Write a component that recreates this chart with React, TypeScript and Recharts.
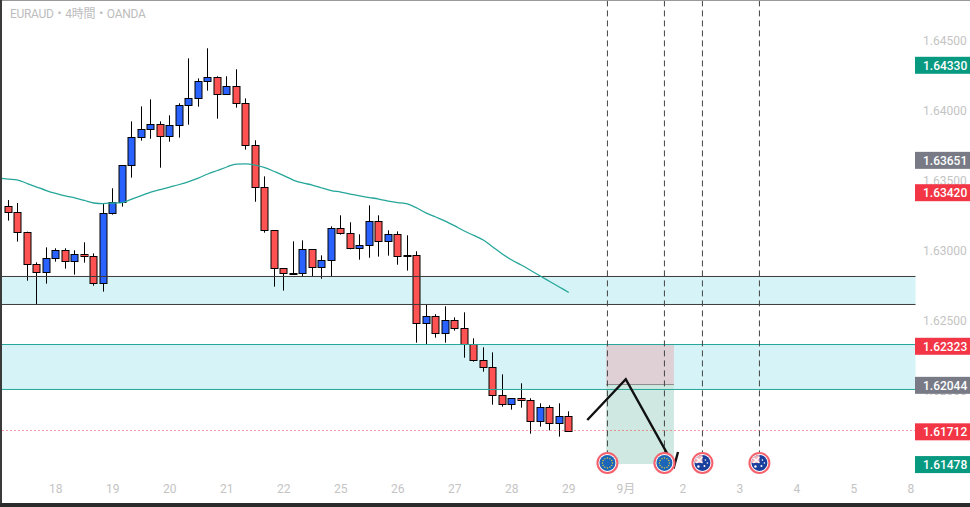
import { ComposedChart, Bar, Line, XAxis, YAxis, ReferenceArea, ReferenceLine, ReferenceDot } from 'recharts';

const TITLE = 'EURAUD・4時間・OANDA';

// 4h candles, oldest first
const opens = [
  1.63319, 1.63276, 1.63133, 1.62905, 1.62848, 1.62948, 1.63005, 1.62926, 1.62976, 1.62962,
  1.62769, 1.63269, 1.63348, 1.63612, 1.63812, 1.63869, 1.63905, 1.63819, 1.63898, 1.64041,
  1.6409, 1.64212, 1.64241, 1.64119, 1.64176, 1.64055, 1.63755, 1.63455, 1.63148, 1.62876,
  1.6284, 1.6284, 1.63012, 1.62883, 1.62933, 1.63162, 1.63126, 1.63019, 1.6304, 1.63212,
  1.63069, 1.63119, 1.62969, 1.62969, 1.62483, 1.62533, 1.62412, 1.62505, 1.62448, 1.62333,
  1.62219, 1.62169, 1.61969, 1.61905, 1.61948, 1.61933, 1.61783, 1.61883, 1.61769, 1.61819,
];
const highs = [
  1.63364, 1.63343, 1.63138, 1.62919, 1.63026, 1.63019, 1.63019, 1.63005, 1.63062, 1.62983,
  1.6334, 1.63448, 1.63614, 1.63926, 1.64033, 1.64083, 1.63926, 1.63969, 1.64055, 1.64376,
  1.64233, 1.64448, 1.64248, 1.64248, 1.64298, 1.6409, 1.63791, 1.63533, 1.63148, 1.62876,
  1.63069, 1.63076, 1.63012, 1.62969, 1.63176, 1.63255, 1.63205, 1.63119, 1.63326, 1.63255,
  1.63148, 1.6314, 1.63112, 1.62998, 1.62617, 1.62548, 1.62605, 1.62526, 1.62562, 1.62376,
  1.62312, 1.62276, 1.62119, 1.61948, 1.62055, 1.61948, 1.61912, 1.61898, 1.61912, 1.61855,
];
const lows = [
  1.63217, 1.63067, 1.62788, 1.62621, 1.62767, 1.62924, 1.62874, 1.62831, 1.62917, 1.62752,
  1.6271, 1.6326, 1.63317, 1.63524, 1.63788, 1.63802, 1.63595, 1.63781, 1.6381, 1.63902,
  1.64031, 1.64145, 1.63945, 1.64119, 1.64024, 1.63724, 1.63352, 1.63131, 1.62745, 1.62717,
  1.6284, 1.62821, 1.62819, 1.62802, 1.62819, 1.63117, 1.63012, 1.62938, 1.62952, 1.6296,
  1.62967, 1.62902, 1.6286, 1.62345, 1.62336, 1.62381, 1.62345, 1.62431, 1.62238, 1.6221,
  1.62138, 1.61902, 1.61888, 1.61867, 1.61881, 1.61695, 1.61745, 1.61719, 1.61674, 1.61712,
];
const closes = [
  1.63276, 1.63133, 1.62905, 1.62848, 1.62948, 1.63005, 1.62926, 1.62976, 1.62962, 1.62769,
  1.63269, 1.63348, 1.63612, 1.63812, 1.63869, 1.63905, 1.63819, 1.63898, 1.64041, 1.6409,
  1.64212, 1.64241, 1.64119, 1.64176, 1.64055, 1.63755, 1.63455, 1.63148, 1.62876, 1.6284,
  1.6284, 1.63012, 1.62883, 1.62933, 1.63162, 1.63126, 1.63019, 1.6304, 1.63212, 1.63069,
  1.63119, 1.62962, 1.62962, 1.62483, 1.62533, 1.62412, 1.62505, 1.62448, 1.62333, 1.62219,
  1.62169, 1.61969, 1.61905, 1.61948, 1.61933, 1.61783, 1.61883, 1.61769, 1.61819, 1.61712,
];

// moving average, first value sits one slot before the first candle
const maValues = [
  1.63521, 1.63514, 1.63507, 1.63482, 1.63457, 1.63432, 1.63411, 1.63393, 1.63379, 1.63361, 1.63343,
  1.63339, 1.63343, 1.63346, 1.63371, 1.63396, 1.63421, 1.63439, 1.63457, 1.63475, 1.63496,
  1.63521, 1.6355, 1.63575, 1.636, 1.63621, 1.63623, 1.63614, 1.63596, 1.63568, 1.63539,
  1.63507, 1.63486, 1.63471, 1.6345, 1.63432, 1.63421, 1.63407, 1.63393, 1.63382, 1.63371,
  1.63357, 1.63346, 1.63336, 1.63307, 1.63271, 1.63243, 1.63214, 1.63179, 1.63143, 1.63111,
  1.63079, 1.63029, 1.62979, 1.62936, 1.629, 1.62861, 1.62821, 1.62782, 1.62743, 1.62704,
];

const dayTicks = [5, 11, 17, 23, 29, 35, 41, 47, 53, 59, 65, 71, 77, 83, 89, 95];
const dayLabels = ['18', '19', '20', '21', '22', '25', '26', '27', '28', '29', '9月', '2', '3', '4', '5', '8'];

const axisTicks = [1.615, 1.62, 1.625, 1.63, 1.635, 1.64, 1.645];
const tagValues = [1.6433, 1.63651, 1.6342, 1.62323, 1.62044, 1.61712, 1.61478];
const tagColors = ['#089981', '#787b86', '#f23645', '#f23645', '#787b86', '#f23645', '#089981'];

const darkZone = [1.62618, 1.62818];
const tealZone = [1.62011, 1.62332];
const lastPriceLine = 1.61718;

const positionSlots = [62.93, 70.07];
const positionPrices = [1.61478, 1.62046, 1.62333];

const eventSlots = [63.07, 69.07, 73.07, 79.07];
const eventKinds = ['eu', 'eu', 'au', 'au'];
const eventPrice = 1.61486;
const eventLineTop = 1.6479;
const eventLineBottom = 1.61564;

const sketchSlots = [60.95, 65, 70.1, 70.5];
const sketchPrices = [1.61793, 1.62084, 1.61464, 1.61564];

const SLOT_COUNT = 97;
const rows = Array.from({ length: SLOT_COUNT }, (_, n) => {
  const i = n - 1;
  const hasCandle = i >= 0 && i < opens.length;
  return {
    slot: i,
    open: hasCandle ? opens[i] : null,
    high: hasCandle ? highs[i] : null,
    low: hasCandle ? lows[i] : null,
    close: hasCandle ? closes[i] : null,
    ma: n < maValues.length ? maValues[n] : null,
  };
});
const sketchData = sketchSlots.map((x, i) => ({ x, sketch: sketchPrices[i] }));

function Candle(props: any) {
  const { x, y, width, height, payload } = props;
  if (payload.open == null) return null;
  const { open, high, low, close } = payload;
  const k = height / (high - low);
  const top = Math.round(y + (high - Math.max(open, close)) * k) + 0.5;
  const bottom = Math.round(y + (high - Math.min(open, close)) * k) + 0.5;
  const cx = Math.floor(x + width / 2) + 0.5;
  const up = close > open;
  return (
    <g>
      <line x1={cx} x2={cx} y1={y} y2={y + height} stroke="#000" strokeWidth={1} />
      <rect
        x={cx - 3.5}
        y={top}
        width={7}
        height={Math.max(bottom - top, 1)}
        fill={up ? '#2962ff' : '#ff5252'}
        stroke="#000"
        strokeWidth={1}
      />
    </g>
  );
}

function PriceTick(props: any) {
  const { y, payload } = props;
  const tagIndex = tagValues.indexOf(payload.value);
  const label = payload.value.toFixed(5);
  if (tagIndex < 0) {
    return (
      <text x={931} y={y + 4} fontSize={12} fill="#c4c4c4" fontFamily="Roboto">
        {label}
      </text>
    );
  }
  return (
    <g>
      <rect x={923} y={y - 8} width={55} height={17} fill={tagColors[tagIndex]} />
      <text x={931} y={y + 5} fontSize={12} fontWeight={500} fill="#fff" fontFamily="Roboto">
        {label}
      </text>
    </g>
  );
}

function DayTick(props: any) {
  const { x, payload } = props;
  return (
    <text x={x} y={493} fontSize={12} fill="#c4c4c4" fontFamily="Roboto, 'Noto Sans CJK JP'" textAnchor="middle">
      {dayLabels[dayTicks.indexOf(payload.value)]}
    </text>
  );
}

const EU_STARS = [0, 1, 2, 3, 4, 5, 6, 7, 8, 9, 10, 11];

function EventIcon(props: any) {
  const { cx, cy, kind } = props;
  return (
    <g>
      <circle cx={cx} cy={cy} r={10} fill="#fff" stroke="#f4606c" strokeWidth={2} />
      {kind === 'eu' ? (
        <g>
          <circle cx={cx} cy={cy} r={8} fill="#1b66b8" />
          {EU_STARS.map((s) => (
            <circle
              key={s}
              cx={cx + 5 * Math.cos((s * Math.PI) / 6)}
              cy={cy + 5 * Math.sin((s * Math.PI) / 6)}
              r={0.7}
              fill="#e8c93a"
            />
          ))}
        </g>
      ) : (
        <g>
          <circle cx={cx} cy={cy} r={8} fill="#1a3f9c" />
          <path d={`M${cx} ${cy}L${cx} ${cy - 8}A8 8 0 0 0 ${cx - 8} ${cy}Z`} fill="#f0b6bd" />
          <path d={`M${cx - 6} ${cy - 5}L${cx} ${cy}M${cx - 6} ${cy}L${cx} ${cy - 6}`} stroke="#fff" strokeWidth={1.2} />
          <circle cx={cx + 3} cy={cy - 3} r={0.8} fill="#fff" />
          <circle cx={cx + 5} cy={cy} r={0.8} fill="#fff" />
          <circle cx={cx + 2} cy={cy + 3} r={1} fill="#fff" />
          <circle cx={cx - 4} cy={cy + 3.5} r={1.2} fill="#fff" />
        </g>
      )}
    </g>
  );
}

export default function App() {
  return (
    <div style={{ position: 'absolute', left: 0, top: 0, width: 970, height: 507, overflow: 'hidden', background: '#fff' }}>
      <div style={{ position: 'absolute', left: -8, top: 0 }}>
        <ComposedChart
          width={978}
          height={507}
          data={rows}
          margin={{ top: 0, right: 0, bottom: 0, left: 2.05 }}
          barCategoryGap={0}
        >
          <XAxis
            xAxisId="time"
            dataKey="slot"
            type="category"
            height={27}
            ticks={dayTicks}
            interval={0}
            axisLine={false}
            tickLine={false}
            tick={<DayTick />}
          />
          <XAxis
            xAxisId="draw"
            dataKey="x"
            type="number"
            domain={[-1.5, 95.5]}
            allowDataOverflow
            hide
          />
          <YAxis
            yAxisId="price"
            orientation="right"
            type="number"
            domain={[1.61364286, 1.64792857]}
            allowDataOverflow
            width={54.5}
            ticks={[...axisTicks, ...tagValues]}
            interval={0}
            axisLine={false}
            tickLine={false}
            tick={<PriceTick />}
          />

          <ReferenceArea xAxisId="draw" yAxisId="price" y1={darkZone[0]} y2={darkZone[1]} fill="#d6f4f7" fillOpacity={1} stroke="none" />
          <ReferenceArea xAxisId="draw" yAxisId="price" y1={tealZone[0]} y2={tealZone[1]} fill="#d6f4f7" fillOpacity={1} stroke="none" />
          <ReferenceArea
            xAxisId="draw"
            yAxisId="price"
            x1={positionSlots[0]}
            x2={positionSlots[1]}
            y1={positionPrices[1]}
            y2={positionPrices[2]}
            fill="#dfd0d5"
            fillOpacity={1}
            stroke="none"
          />
          <ReferenceArea
            xAxisId="draw"
            yAxisId="price"
            x1={positionSlots[0]}
            x2={positionSlots[1]}
            y1={positionPrices[0]}
            y2={positionPrices[1]}
            fill="#cfe9e2"
            fillOpacity={1}
            stroke="none"
          />
          {darkZone.map((v) => (
            <ReferenceLine key={v} xAxisId="draw" yAxisId="price" y={v} stroke="#3a3a3a" strokeWidth={1} />
          ))}
          {tealZone.map((v) => (
            <ReferenceLine key={v} xAxisId="draw" yAxisId="price" y={v} stroke="#26a69a" strokeWidth={1} />
          ))}
          <ReferenceLine
            xAxisId="draw"
            yAxisId="price"
            segment={[
              { x: positionSlots[0], y: positionPrices[1] },
              { x: positionSlots[1], y: positionPrices[1] },
            ]}
            stroke="#8a8a8a"
            strokeWidth={1}
          />
          <ReferenceLine xAxisId="draw" yAxisId="price" y={lastPriceLine} stroke="#f23645" strokeWidth={1} strokeDasharray="1 3" />
          {eventSlots.map((s) => (
            <ReferenceLine
              key={s}
              xAxisId="draw"
              yAxisId="price"
              segment={[
                { x: s, y: eventLineTop },
                { x: s, y: eventLineBottom },
              ]}
              stroke="#444"
              strokeWidth={1}
              strokeDasharray="6 4"
            />
          ))}

          <Line
            xAxisId="time"
            yAxisId="price"
            dataKey="ma"
            type="monotone"
            stroke="#26a69a"
            strokeWidth={1.3}
            dot={false}
            activeDot={false}
            isAnimationActive={false}
          />
          <Bar
            xAxisId="time"
            yAxisId="price"
            dataKey={(row: any) => (row.open == null ? null : [row.low, row.high])}
            barSize={7}
            shape={<Candle />}
            isAnimationActive={false}
          />
          <Line
            xAxisId="draw"
            yAxisId="price"
            data={sketchData}
            dataKey="sketch"
            type="linear"
            stroke="#111"
            strokeWidth={2.4}
            dot={false}
            activeDot={false}
            isAnimationActive={false}
          />
          {eventSlots.map((s, i) => (
            <ReferenceDot
              key={s}
              xAxisId="draw"
              yAxisId="price"
              x={s}
              y={eventPrice}
              r={10}
              shape={(p: any) => <EventIcon cx={p.cx} cy={p.cy} kind={eventKinds[i]} />}
            />
          ))}
        </ComposedChart>
      </div>

      <div
        style={{
          position: 'absolute',
          left: 10,
          top: 7,
          fontFamily: "Roboto, 'Noto Sans CJK JP'",
          fontSize: 12,
          lineHeight: '15px',
          letterSpacing: -0.3,
          color: '#bdbdbd',
        }}
      >
        {TITLE}
      </div>

      {/* window frame */}
      <div style={{ position: 'absolute', left: 0, top: 0, width: 970, height: 1, background: '#999' }} />
      <div style={{ position: 'absolute', left: 0, top: 0, width: 2, height: 507, background: '#3a3a3a' }} />
      <div style={{ position: 'absolute', left: 0, top: 503, width: 970, height: 4, background: '#2b2b2b' }} />
    </div>
  );
}
